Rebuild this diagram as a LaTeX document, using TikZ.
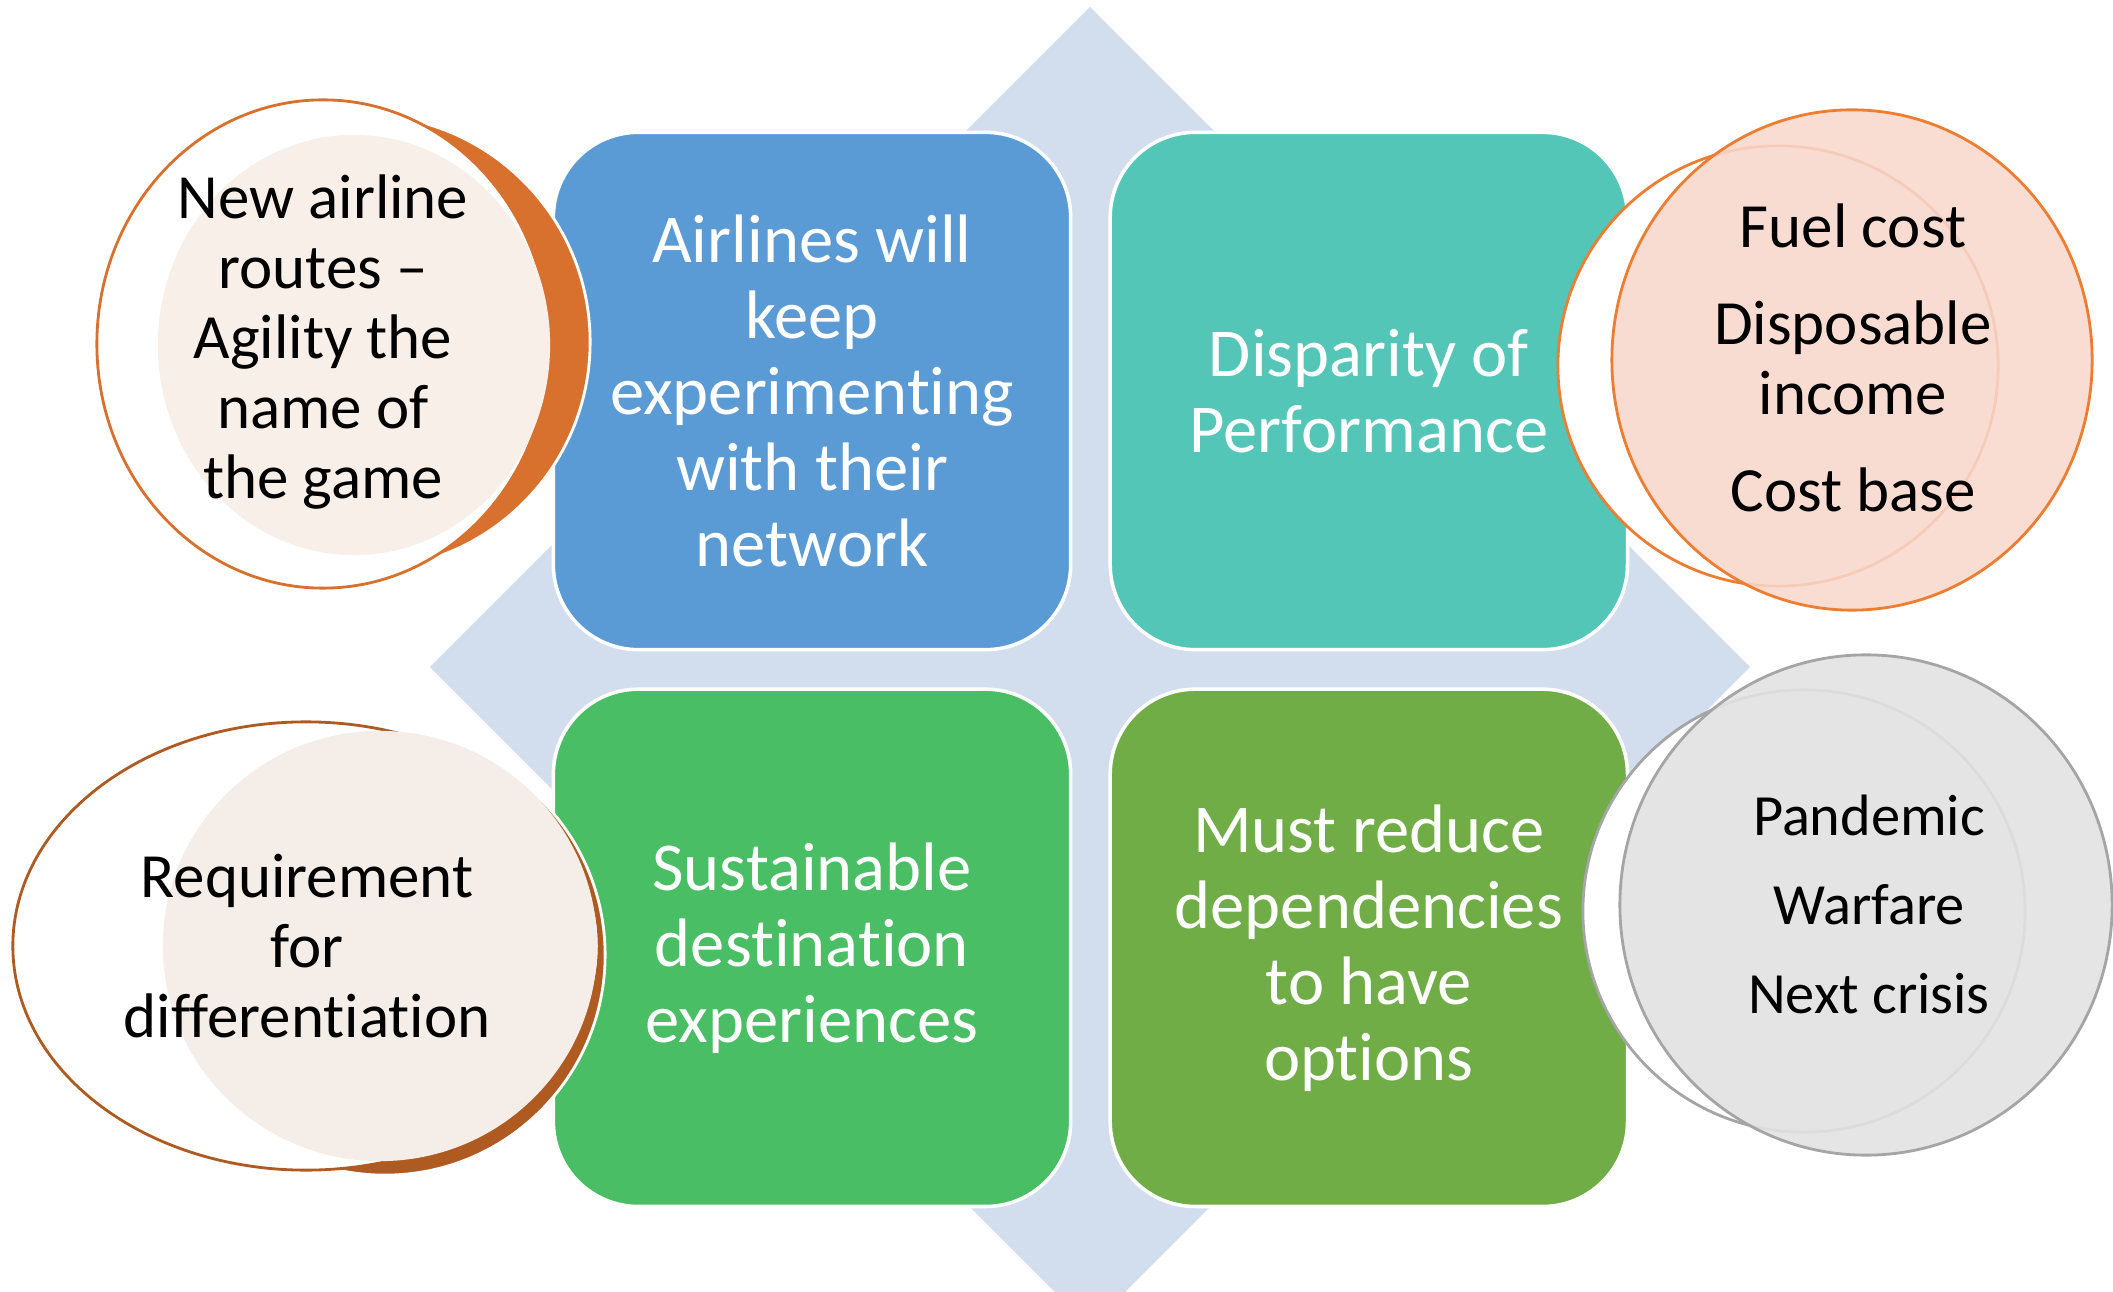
\documentclass[tikz,border=0pt]{standalone}
\usepackage{fontspec}
\setmainfont{Carlito}[Ligatures=CommonOff]
\usetikzlibrary{shapes,positioning}
\definecolor{cback}{HTML}{D2DEEE}
\definecolor{cblue}{HTML}{5B9BD5}
\definecolor{cteal}{HTML}{53C6B7}
\definecolor{cgreen}{HTML}{4ABE64}
\definecolor{colive}{HTML}{70AD47}
\definecolor{corange}{HTML}{D8712E}
\definecolor{cpeach}{HTML}{ED7D31}
\definecolor{cbrown}{HTML}{AE5A21}
\definecolor{cbeige}{HTML}{F8EFE9}
\definecolor{cbeigeb}{HTML}{F5EDE7}
\definecolor{cpink}{HTML}{F8D8CC}
\definecolor{cgrey}{HTML}{E2E2E2}
\definecolor{cgreyline}{HTML}{A5A5A5}
\tikzset{
block/.style = {draw=white, line width=1pt, rectangle, rounded corners=0.85cm, minimum width=5.17cm, minimum height=5.17cm, text=white, align=center, font=\fontsize{19.5}{21.6}\selectfont},
disc/.style = {ellipse, inner sep=0pt, line width=0.8pt},
btext/.style = {align=center, text=black, font=\fontsize{17.9}{19.9}\selectfont}
}

\begin{document}
\begin{tikzpicture}[x=0.01cm, y=-0.01cm]
  \useasboundingbox (0,0) rectangle (2113,1292);
  \node [diamond, fill=cback, inner sep=0pt, minimum width=13.2cm, minimum height=13.2cm] (back) at (1090,667) {};

  \node [block, fill=cblue] (network) at (812,391) {Airlines will\\keep\\experimenting\\with their\\network};
  \node [block, fill=cteal, right=0.36cm of network] (perf) {Disparity of\\Performance};
  \node [block, fill=cgreen, below=0.36cm of network] (dest) {Sustainable\\destination\\experiences};
  \node [block, fill=colive, below=0.36cm of perf] (options) {Must reduce\\dependencies\\to have\\options};

  \node [disc, fill=corange, draw=white, minimum width=4.54cm, minimum height=4.54cm] (agilback) at (363,342) {};
  \node [disc, fill=white, draw=corange, minimum width=4.52cm, minimum height=4.88cm] (agilring) at (323,344) {};
  \node [disc, fill=cbeige, minimum width=3.92cm, minimum height=4.20cm] (agilfront) at (354,345) {};
  \node [btext] (agility) at (323,342) {New airline\\routes –\\Agility the\\name of\\the game};

  \node [disc, fill=cbrown, draw=white, minimum width=4.40cm, minimum height=4.40cm] (diffback) at (385,955) {};
  \node [disc, fill=white, draw=cbrown, minimum width=5.86cm, minimum height=4.48cm] (diffring) at (306,946) {};
  \node [disc, fill=cbeigeb, minimum width=4.34cm, minimum height=4.30cm] (difffront) at (380,946) {};
  \node [btext] (diff) at (307,946) {Requirement\\for\\differentiation};

  \node [disc, fill=white, draw=cpeach, minimum width=4.40cm, minimum height=4.40cm] (costring) at (1778,366) {};
  \node [disc, fill=cpink, fill opacity=0.88, draw=cpeach, minimum width=4.80cm, minimum height=5.00cm] (costfront) at (1852,360) {};
  \node [btext] (cost) at (1853,358) {Fuel cost\\[7.7pt]Disposable\\income\\[7.7pt]Cost base};

  \node [disc, fill=white, draw=cgreyline, minimum width=4.42cm, minimum height=4.42cm] (crisisring) at (1804,911) {};
  \node [disc, fill=cgrey, fill opacity=0.9, draw=cgreyline, minimum width=4.92cm, minimum height=5.00cm] (crisisfront) at (1866,905) {};
  \node [btext, font=\fontsize{16.6}{18.5}\selectfont] (crisis) at (1869,904) {Pandemic\\[6.8pt]Warfare\\[6.8pt]Next crisis};
\end{tikzpicture}
\end{document}
